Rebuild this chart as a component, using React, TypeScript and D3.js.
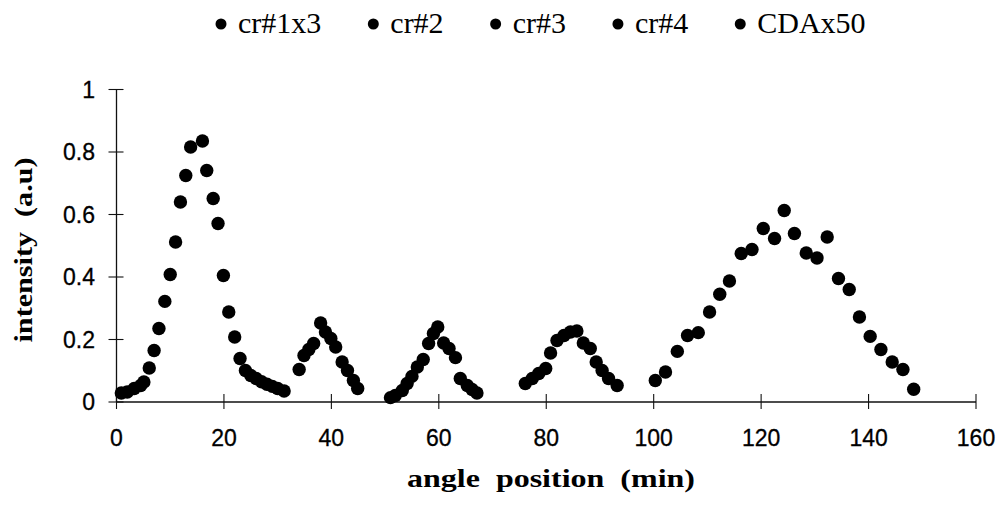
import React, { useEffect, useRef } from "react";
import * as d3 from "d3";

const seriesNames = ["cr#1x3", "cr#2", "cr#3", "cr#4", "CDAx50"];

const cr1X = [0.9, 2, 3.3, 4.5, 5.1, 6.1, 7, 7.9, 9, 10, 11, 11.9, 12.9, 13.8, 16, 16.8, 18, 18.9, 19.9, 20.9, 22, 23, 24, 25, 26, 27, 28, 29, 30, 31.2];
const cr1Y = [0.029, 0.032, 0.043, 0.053, 0.064, 0.109, 0.165, 0.235, 0.322, 0.408, 0.512, 0.64, 0.725, 0.816, 0.835, 0.741, 0.651, 0.571, 0.405, 0.288, 0.208, 0.139, 0.101, 0.085, 0.075, 0.065, 0.057, 0.05, 0.043, 0.035];

const cr2X = [34, 34.9, 35.8, 36.7, 38, 38.9, 39.9, 40.8, 42, 43, 44.1, 44.9];
const cr2Y = [0.104, 0.149, 0.168, 0.187, 0.253, 0.224, 0.203, 0.176, 0.128, 0.101, 0.069, 0.043];

const cr3X = [51, 51.9, 53.2, 54.1, 55, 56, 57.1, 58.1, 59, 59.8, 60.9, 61.9, 63.1, 64, 65.3, 66.2, 67.1];
const cr3Y = [0.014, 0.021, 0.037, 0.059, 0.082, 0.112, 0.136, 0.187, 0.219, 0.24, 0.189, 0.171, 0.142, 0.075, 0.053, 0.04, 0.029];

const cr4X = [76.1, 77.4, 78.6, 79.9, 80.8, 82, 83.3, 84.5, 85.7, 86.9, 88.2, 89.3, 90.4, 91.6, 93.2];
const cr4Y = [0.059, 0.075, 0.091, 0.107, 0.157, 0.197, 0.213, 0.224, 0.227, 0.189, 0.171, 0.128, 0.101, 0.075, 0.053];

const cdaX = [100.3, 102.2, 104.4, 106.3, 108.3, 110.4, 112.3, 114.1, 116.3, 118.3, 120.4, 122.5, 124.3, 126.2, 128.4, 130.4, 132.3, 134.4, 136.4, 138.3, 140.3, 142.3, 144.4, 146.4, 148.4];
const cdaY = [0.069, 0.096, 0.162, 0.213, 0.222, 0.288, 0.345, 0.387, 0.475, 0.488, 0.555, 0.523, 0.613, 0.539, 0.477, 0.461, 0.528, 0.395, 0.36, 0.272, 0.21, 0.168, 0.128, 0.104, 0.041];

const xTicks = [0, 20, 40, 60, 80, 100, 120, 140, 160];
const yTicks = [0, 0.2, 0.4, 0.6, 0.8, 1];

const W = 1004;
const H = 507;

export default function App() {
  const ref = useRef<SVGSVGElement>(null);

  useEffect(() => {
    const svg = d3.select(ref.current);
    svg.selectAll("*").remove();

    const x = d3.scaleLinear().domain([0, 160]).range([116.5, 976]);
    const y = d3.scaleLinear().domain([0, 1]).range([402, 89.5]);

    const sans = "'Liberation Sans', Arial, sans-serif";
    const serif = "'Liberation Serif', 'Times New Roman', serif";

    const g = svg.append("g");
    g.append("line").attr("x1", x(0)).attr("x2", x(160)).attr("y1", y(0)).attr("y2", y(0))
      .attr("stroke", "#111").attr("stroke-width", 1.3);
    g.append("line").attr("x1", x(0)).attr("x2", x(0)).attr("y1", y(0)).attr("y2", y(1))
      .attr("stroke", "#111").attr("stroke-width", 1.3);

    xTicks.forEach((t) => {
      g.append("line").attr("x1", x(t)).attr("x2", x(t)).attr("y1", y(0) - 8).attr("y2", y(0) + 7)
        .attr("stroke", "#111").attr("stroke-width", 1.1);
      g.append("text").attr("x", x(t)).attr("y", 446).attr("text-anchor", "middle")
        .attr("font-family", sans).attr("font-size", 23).attr("fill", "#000")
        .attr("stroke", "#000").attr("stroke-width", 0.3).text(d3.format("d")(t));
    });
    yTicks.forEach((t) => {
      g.append("line").attr("x1", x(0) - 8).attr("x2", x(0) + 7).attr("y1", y(t)).attr("y2", y(t))
        .attr("stroke", "#111").attr("stroke-width", 1.1);
      g.append("text").attr("x", 95).attr("y", y(t)).attr("dy", "0.36em").attr("text-anchor", "end")
        .attr("font-family", sans).attr("font-size", 23).attr("fill", "#000")
        .attr("stroke", "#000").attr("stroke-width", 0.3).text(String(t));
    });

    svg.append("text").attr("x", 551).attr("y", 487).attr("text-anchor", "middle")
      .attr("font-family", serif).attr("font-weight", "bold").attr("font-size", 26)
      .attr("textLength", 288).attr("lengthAdjust", "spacingAndGlyphs")
      .style("white-space", "pre").text("angle  position  (min)");
    svg.append("text").attr("transform", "translate(32,250) rotate(-90)").attr("text-anchor", "middle")
      .attr("font-family", serif).attr("font-weight", "bold").attr("font-size", 26)
      .attr("textLength", 185).attr("lengthAdjust", "spacingAndGlyphs")
      .style("white-space", "pre").text("intensity  (a.u)");

    const series = [
      { xs: cr1X, ys: cr1Y },
      { xs: cr2X, ys: cr2Y },
      { xs: cr3X, ys: cr3Y },
      { xs: cr4X, ys: cr4Y },
      { xs: cdaX, ys: cdaY },
    ];
    series.forEach((s) => {
      svg.append("g").selectAll("circle")
        .data(s.xs.map((v, i) => [v, s.ys[i]]))
        .join("circle")
        .attr("cx", (d) => x(d[0]))
        .attr("cy", (d) => y(d[1]))
        .attr("r", 6.7)
        .attr("fill", "#000");
    });

    const lg = svg.append("g");
    let cur = 221;
    seriesNames.forEach((name) => {
      lg.append("circle").attr("cx", cur).attr("cy", 24).attr("r", 5.5).attr("fill", "#000");
      const t = lg.append("text").attr("x", cur + 17).attr("y", 33)
        .attr("font-family", serif).attr("font-size", 30).attr("fill", "#000").text(name);
      const w = (t.node() as SVGTextElement).getComputedTextLength();
      cur = cur + 17 + w + 52;
    });
  }, []);

  return (
    <svg
      ref={ref}
      width={W}
      height={H}
      style={{ position: "absolute", left: 0, top: 0, background: "#fff" }}
    />
  );
}
